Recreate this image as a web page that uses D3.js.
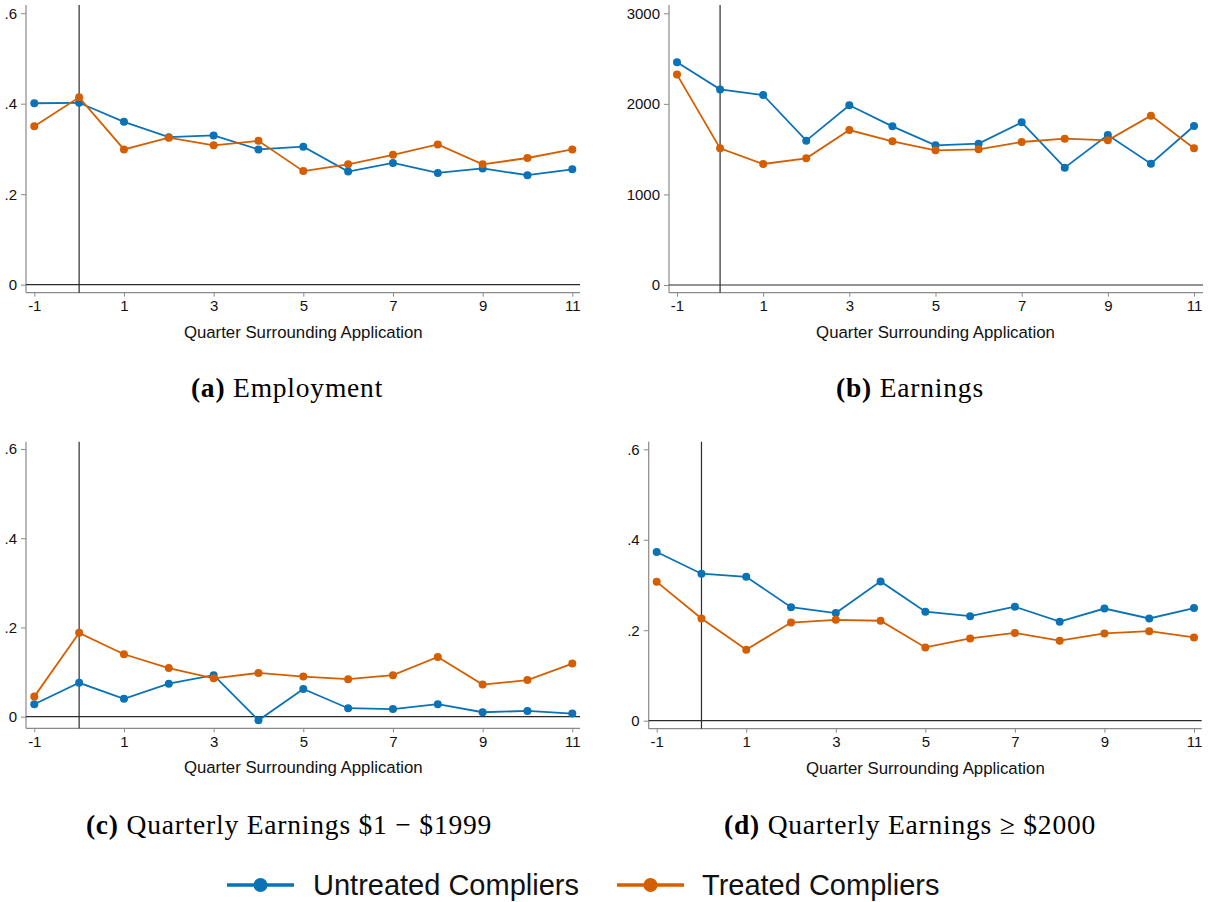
<!DOCTYPE html>
<html>
<head>
<meta charset="utf-8">
<script src="https://cdn.jsdelivr.net/npm/d3@7"></script>
<style>
  html, body { margin: 0; padding: 0; background: #fff; }
  svg { display: block; }
</style>
</head>
<body>
<svg id="chart" width="1211" height="902"></svg>
<script>
// ---------- DATA ----------
const quarters = [-1, 0, 1, 2, 3, 4, 5, 6, 7, 8, 9, 10, 11];
const xTickValues = [-1, 1, 3, 5, 7, 9, 11];
const shareTicks = [0, 0.2, 0.4, 0.6];
const earningsTicks = [0, 1000, 2000, 3000];

const employmentUntreated = [0.401, 0.402, 0.360, 0.326, 0.330, 0.299, 0.305, 0.250, 0.269, 0.247, 0.257, 0.242, 0.255];
const employmentTreated   = [0.350, 0.414, 0.299, 0.325, 0.308, 0.318, 0.251, 0.266, 0.287, 0.310, 0.266, 0.280, 0.299];

const earningsUntreated = [2459, 2160, 2098, 1594, 1984, 1752, 1542, 1561, 1796, 1296, 1656, 1340, 1756];
const earningsTreated   = [2323, 1509, 1336, 1399, 1711, 1586, 1487, 1498, 1579, 1616, 1597, 1870, 1509];

const lowEarnUntreated = [0.028, 0.076, 0.040, 0.074, 0.093, -0.008, 0.062, 0.019, 0.017, 0.028, 0.010, 0.013, 0.007];
const lowEarnTreated   = [0.045, 0.188, 0.140, 0.109, 0.086, 0.098, 0.090, 0.084, 0.093, 0.134, 0.072, 0.082, 0.119];

const highEarnUntreated = [0.373, 0.325, 0.318, 0.251, 0.238, 0.308, 0.241, 0.231, 0.252, 0.219, 0.248, 0.226, 0.249];
const highEarnTreated   = [0.307, 0.226, 0.157, 0.217, 0.223, 0.221, 0.162, 0.182, 0.194, 0.177, 0.193, 0.198, 0.184];

const seriesNames = ["Untreated Compliers", "Treated Compliers"];
const captionLetters = ["(a)", "(b)", "(c)", "(d)"];
const captionTexts = ["Employment", "Earnings", "Quarterly Earnings $1 \u2212 $1999", "Quarterly Earnings \u2265 $2000"];
const xAxisTitle = "Quarter Surrounding Application";

// ---------- STYLE ----------
const colors = ["#0A72B5", "#D55E00"];
const axisColor = "#8a8a8a";
const refColor = "#2b2b2b";
const sansFont = "'Liberation Sans', Arial, Helvetica, sans-serif";
const serifFont = "'Liberation Serif', 'Times New Roman', serif";

const svg = d3.select("#chart");

const shareFmt = v => v === 0 ? "0" : d3.format(".1f")(v).replace(/^0/, "");
const intFmt = v => String(v);   // plain hyphen for negatives, as in the original

const panels = [
  { data: [employmentUntreated, employmentTreated], ticks: shareTicks, fmt: shareFmt,
    frameL: 26, frameR: 580, frameT: 5, frameB: 292.7, xr: [34.3, 572.3], y0: 284.7, yTop: 13.2, yMax: 0.6,
    capX: 287, capY: 397, cap: 0 },
  { data: [earningsUntreated, earningsTreated], ticks: earningsTicks, fmt: intFmt,
    frameL: 669, frameR: 1203, frameT: 5, frameB: 292.7, xr: [677, 1194], y0: 285, yTop: 13.3, yMax: 3000,
    capX: 910, capY: 397, cap: 1 },
  { data: [lowEarnUntreated, lowEarnTreated], ticks: shareTicks, fmt: shareFmt,
    frameL: 26, frameR: 580, frameT: 441.7, frameB: 728.3, xr: [34.3, 572.3], y0: 716.7, yTop: 449, yMax: 0.6,
    capX: 289, capY: 834, cap: 2 },
  { data: [highEarnUntreated, highEarnTreated], ticks: shareTicks, fmt: shareFmt,
    frameL: 648.7, frameR: 1201.7, frameT: 441.7, frameB: 728.7, xr: [656.7, 1194], y0: 720.7, yTop: 449.3, yMax: 0.6,
    capX: 910, capY: 834, cap: 3 }
];

panels.forEach(p => {
  const g = svg.append("g");
  const x = d3.scaleLinear().domain([-1, 11]).range(p.xr);
  const y = d3.scaleLinear().domain([0, p.yMax]).range([p.y0, p.yTop]);

  // y axis
  const yAxis = d3.axisLeft(y).tickValues(p.ticks).tickFormat(p.fmt).tickSize(5).tickPadding(4);
  const ya = g.append("g").attr("transform", `translate(${p.frameL},0)`).call(yAxis);
  ya.select(".domain").remove();
  ya.append("line").attr("x1", 0).attr("x2", 0).attr("y1", p.frameT).attr("y2", p.frameB)
    .attr("stroke", axisColor).attr("stroke-width", 1.2);
  ya.selectAll(".tick line").attr("stroke", axisColor);
  ya.selectAll(".tick text").attr("fill", "#111").style("font-family", sansFont).style("font-size", "15px");

  // x axis
  const xAxis = d3.axisBottom(x).tickValues(xTickValues).tickFormat(intFmt).tickSize(4).tickPadding(4);
  const xa = g.append("g").attr("transform", `translate(0,${p.frameB})`).call(xAxis);
  xa.select(".domain").remove();
  xa.append("line").attr("x1", p.frameL).attr("x2", p.frameR).attr("y1", 0).attr("y2", 0)
    .attr("stroke", axisColor).attr("stroke-width", 1.2);
  xa.selectAll(".tick line").attr("stroke", axisColor);
  xa.selectAll(".tick text").attr("fill", "#111").style("font-family", sansFont).style("font-size", "15px");

  // x axis title
  g.append("text")
    .attr("x", (p.xr[0] + p.xr[1]) / 2).attr("y", p.frameB + 45)
    .attr("text-anchor", "middle")
    .style("font-family", sansFont).style("font-size", "16.8px").attr("fill", "#111")
    .text(xAxisTitle);

  // zero line and vertical line at quarter 0
  g.append("line").attr("x1", p.frameL).attr("x2", p.frameR).attr("y1", y(0)).attr("y2", y(0))
    .attr("stroke", refColor).attr("stroke-width", 1.2);
  g.append("line").attr("x1", x(0)).attr("x2", x(0)).attr("y1", p.frameT).attr("y2", p.frameB)
    .attr("stroke", refColor).attr("stroke-width", 1.2);

  // series
  const line = d3.line().x((d, i) => x(quarters[i])).y(d => y(d));
  p.data.forEach((vals, si) => {
    g.append("path").datum(vals).attr("d", line)
      .attr("fill", "none").attr("stroke", colors[si]).attr("stroke-width", 1.8);
    g.selectAll(null).data(vals).enter().append("circle")
      .attr("cx", (d, i) => x(quarters[i])).attr("cy", d => y(d)).attr("r", 4)
      .attr("fill", colors[si]);
  });

  // caption
  const cap = g.append("text")
    .attr("x", p.capX).attr("y", p.capY).attr("text-anchor", "middle")
    .style("font-family", serifFont).style("font-size", "27.5px").attr("fill", "#000")
    .style("letter-spacing", "0.8px");
  cap.append("tspan").style("font-weight", "bold").text(captionLetters[p.cap]);
  cap.append("tspan").text(" " + captionTexts[p.cap]);
});

// ---------- LEGEND ----------
const legendItems = [
  { x1: 227, x2: 294, tx: 313 },
  { x1: 617, x2: 684, tx: 702 }
];
legendItems.forEach((it, i) => {
  const lg = svg.append("g");
  lg.append("line").attr("x1", it.x1).attr("x2", it.x2).attr("y1", 885).attr("y2", 885)
    .attr("stroke", colors[i]).attr("stroke-width", 3.5);
  lg.append("circle").attr("cx", (it.x1 + it.x2) / 2).attr("cy", 885).attr("r", 7).attr("fill", colors[i]);
  lg.append("text").attr("x", it.tx).attr("y", 895)
    .style("font-family", sansFont).style("font-size", "29px").attr("fill", "#111")
    .text(seriesNames[i]);
});
</script>
</body>
</html>
